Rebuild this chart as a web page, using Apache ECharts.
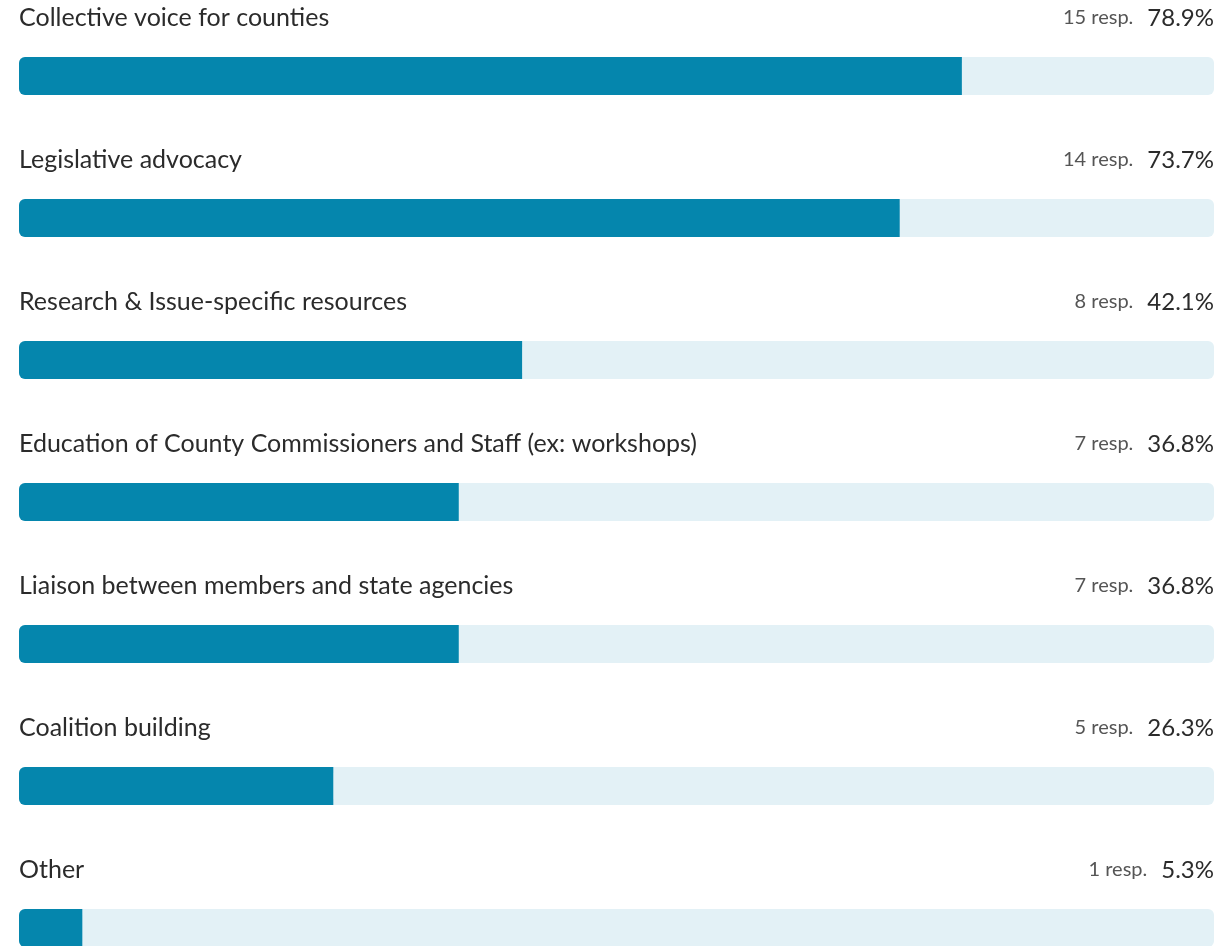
<!DOCTYPE html>
<html>
<head>
<meta charset="utf-8">
<script src="https://cdn.jsdelivr.net/npm/echarts@6/dist/echarts.min.js"></script>
<style>
  html, body { margin: 0; padding: 0; background: #fff; }
  #chart { width: 1224px; height: 946px; }
</style>
</head>
<body>
<div id="chart"></div>
<script>
const categories = [
  'Collective voice for counties',
  'Legislative advocacy',
  'Research & Issue-specific resources',
  'Education of County Commissioners and Staff (ex: workshops)',
  'Liaison between members and state agencies',
  'Coalition building',
  'Other'
]
const responses = [15, 14, 8, 7, 7, 5, 1]
const percents = [78.9, 73.7, 42.1, 36.8, 36.8, 26.3, 5.3]
const trackMax = 100

const font = 'Lato'
const chart = echarts.init(document.getElementById('chart'))

const option = {
  animation: false,
  grid: {
    left: 19,
    right: 10,
    top: 76,
    height: 852
  },
  xAxis: {
    type: 'value',
    min: 0,
    max: trackMax,
    show: false
  },
  yAxis: {
    type: 'category',
    data: categories,
    inverse: true,
    boundaryGap: false,
    show: false
  },
  series: [
    {
      // light track with the item name above it
      type: 'bar',
      barWidth: 38,
      barGap: '-100%',
      silent: true,
      data: categories.map(() => trackMax),
      itemStyle: { color: '#e3f1f6', borderRadius: 6 },
      label: {
        show: true,
        position: [0, -39],
        align: 'left',
        verticalAlign: 'middle',
        fontFamily: font,
        fontSize: 25,
        color: '#2b2b2b',
        formatter: p => p.name
      },
      z: 1
    },
    {
      // filled share
      type: 'bar',
      barWidth: 38,
      barGap: '-100%',
      data: percents,
      itemStyle: { color: '#0586ad', borderRadius: [6, 0, 0, 6] },
      z: 2
    },
    {
      // right side counts, drawn as an invisible full-width bar
      type: 'bar',
      barWidth: 38,
      barGap: '-100%',
      silent: true,
      data: categories.map(() => trackMax),
      itemStyle: { color: 'rgba(0,0,0,0)' },
      label: {
        show: true,
        position: [1195, -39],
        align: 'right',
        verticalAlign: 'middle',
        formatter: p => '{r|' + responses[p.dataIndex] + ' resp.}{g|}{p|' + percents[p.dataIndex].toFixed(1) + '%}',
        rich: {
          r: { fontFamily: font, fontSize: 20, color: '#555555' },
          g: { width: 14 },
          p: { fontFamily: font, fontSize: 24, color: '#2b2b2b' }
        }
      },
      z: 3
    }
  ]
}

chart.setOption(option)
</script>
</body>
</html>
